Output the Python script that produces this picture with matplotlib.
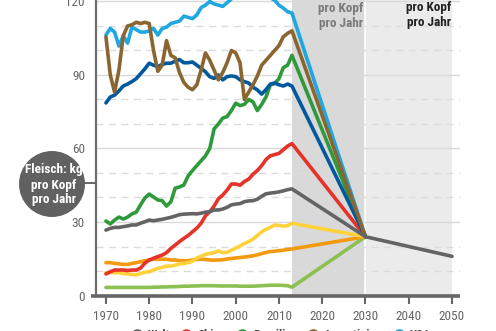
import numpy as np
import matplotlib
matplotlib.use("Agg")
import matplotlib.pyplot as plt
from matplotlib.lines import Line2D
from matplotlib.patches import Circle

plt.rcParams['font.family'] = ['Roboto Condensed', 'Roboto', 'DejaVu Sans']

# historic values 1970-2013, kg meat per head and year
years = list(range(1970, 2014))
welt = [26.7, 27.4, 27.8, 27.8, 28.1, 28.4, 28.8, 28.8, 29.5, 30.1,
        30.8, 30.5, 30.8, 31.1, 31.5, 31.9, 32.4, 33.0, 33.2, 33.3,
        33.4, 33.3, 33.6, 34.0, 34.2, 34.9, 34.9, 35.3, 36.0, 37.0,
        37.3, 37.5, 38.3, 38.6, 38.7, 39.3, 40.5, 41.5, 41.8, 42.0,
        42.3, 42.7, 43.2, 43.5]
china = [8.8, 9.7, 10.4, 10.4, 10.4, 10.2, 10.4, 10.4, 11.2, 13.2,
         14.5, 15.2, 15.9, 16.5, 17.5, 19.2, 20.6, 22.0, 23.3, 24.5,
         26.0, 27.5, 29.5, 32.5, 34.2, 36.5, 39.5, 41.0, 43.0, 45.5,
         45.5, 45.0, 46.5, 47.5, 49.5, 51.0, 53.0, 55.5, 57.0, 57.5,
         58.0, 59.5, 61.0, 62.0]
brasilien = [30.4, 29.2, 30.8, 32.0, 31.2, 32.0, 33.3, 34.0, 37.0, 39.8,
             41.4, 40.2, 39.0, 38.7, 36.5, 38.2, 43.8, 44.3, 45.1, 48.8,
             51.0, 53.0, 55.0, 57.0, 60.0, 68.0, 70.0, 72.4, 73.0, 75.5,
             78.5, 77.5, 78.0, 80.0, 79.0, 75.5, 78.0, 81.0, 86.0, 86.5,
             88.5, 93.0, 94.0, 98.0]
argentinien = [105.5, 90.0, 83.0, 92.0, 106.0, 110.0, 110.5, 111.5, 111.0, 111.5,
               111.0, 100.0, 91.5, 94.0, 104.0, 98.0, 97.0, 91.0, 87.0, 85.0,
               84.0, 86.0, 92.0, 99.0, 96.0, 92.0, 88.0, 91.0, 95.0, 100.0,
               99.0, 95.0, 80.0, 83.0, 86.0, 89.6, 94.0, 96.0, 98.0, 100.0,
               102.0, 105.6, 107.0, 108.0]
usa = [106.3, 109.0, 107.5, 101.8, 106.0, 103.0, 109.5, 108.5, 107.5, 107.5,
       108.0, 109.0, 106.3, 109.0, 109.5, 111.0, 111.5, 112.0, 114.0, 113.5,
       113.0, 114.5, 117.5, 118.5, 120.0, 119.0, 118.5, 118.0, 119.5, 121.0,
       122.0, 121.5, 122.5, 123.0, 123.0, 122.5, 122.0, 122.0, 121.5, 120.5,
       118.5, 117.3, 115.8, 115.3]
dark_blue = [78.6, 81.0, 81.8, 83.5, 85.5, 86.3, 87.3, 88.5, 90.5, 92.5,
             94.8, 94.0, 93.4, 94.3, 94.8, 94.8, 95.6, 96.3, 95.0, 95.0,
             95.3, 94.0, 92.7, 91.3, 89.3, 88.6, 90.0, 88.0, 89.3, 89.6,
             89.3, 88.0, 87.3, 86.7, 85.0, 83.9, 82.2, 84.0, 86.3, 86.7,
             86.0, 85.5, 86.3, 85.5]
yellow = [9.3, 9.3, 9.3, 9.3, 9.0, 8.8, 8.6, 8.4, 9.0, 9.5,
          9.7, 10.4, 11.1, 11.5, 12.0, 12.0, 12.4, 12.9, 13.1, 13.4,
          14.0, 15.3, 16.0, 16.8, 17.2, 17.5, 18.2, 17.5, 17.6, 18.5,
          19.3, 20.2, 21.2, 22.0, 23.0, 24.5, 26.0, 27.0, 27.8, 28.8,
          28.6, 28.3, 28.5, 29.5]
orange = [13.4, 13.4, 13.1, 12.9, 12.7, 12.7, 13.1, 13.4, 13.8, 14.2,
          14.5, 14.8, 14.8, 14.8, 14.8, 14.5, 14.5, 14.2, 14.2, 14.2,
          14.5, 14.7, 14.8, 14.7, 14.5, 14.4, 14.5, 14.6, 14.9, 15.1,
          15.3, 15.5, 15.7, 15.9, 16.2, 16.6, 17.1, 17.6, 17.9, 18.1,
          18.3, 18.5, 18.8, 19.0]
light_green = [3.3, 3.3, 3.3, 3.3, 3.3, 3.3, 3.3, 3.3, 3.3, 3.3,
               3.3, 3.4, 3.4, 3.5, 3.5, 3.6, 3.6, 3.7, 3.8, 3.8,
               3.9, 3.9, 4.0, 4.0, 4.0, 4.0, 3.9, 3.9, 3.9, 3.9,
               3.9, 3.8, 3.8, 3.8, 3.8, 3.9, 4.0, 4.1, 4.2, 4.2,
               4.2, 4.1, 4.0, 3.4]

# target path
ziel_jahr = 2030
ziel_wert = 24.0
welt_2050 = 16.0

xticks = list(range(1970, 2051, 10))
yticks = [0, 30, 60, 90, 120]
legend_names = ['Welt', 'China', 'Brasilien', 'Argentinien', 'USA']

GRAY = '#646464'
series = [
    (light_green, '#8cc152'),
    (orange, '#f49a10'),
    (yellow, '#ffd23c'),
    (china, '#e5332a'),
    (brasilien, '#2e9a3b'),
    (dark_blue, '#00599d'),
    (usa, '#1ea7e1'),
    (argentinien, '#8b6530'),
]

fig = plt.figure(figsize=(4.96, 3.31), dpi=100)
ax = fig.add_axes([96/496, 35/331, 364/496, 296/331])
ax.set_xlim(1967.7, 2051.85)
ax.set_ylim(-0.2, 120.6)

# shaded periods
ax.axvspan(2013, 2030, color='#d9d9d9', lw=0, zorder=0)
ax.axvspan(2030, 2050, color='#ebebeb', lw=0, zorder=0)
ax.axvline(2030, color='white', lw=1.2, zorder=0.5)

# grid
for v in range(10, 121, 10):
    if v % 30 == 0:
        ax.axhline(v, color='#d9d9d9', lw=1.0, zorder=1)
    else:
        ax.axhline(v, color='#dcdcdc', lw=1.0, ls=(0, (5, 4)), zorder=1)

for vals, col in series:
    ax.plot(years + [ziel_jahr], vals + [ziel_wert], color=col, lw=2.6,
            solid_joinstyle='round', solid_capstyle='round', zorder=3)
ax.plot(years + [ziel_jahr, 2050], welt + [ziel_wert, welt_2050], color=GRAY,
        lw=2.6, solid_joinstyle='round', solid_capstyle='round', zorder=4)

# axes
for s in ['top', 'right', 'bottom']:
    ax.spines[s].set_visible(False)
ax.spines['left'].set_color('#6e6e6e')
ax.spines['left'].set_linewidth(1.6)
ax.plot([1966.5, 2051.85], [-0.2, -0.2], color='#666666', lw=2.6,
        clip_on=False, zorder=5, solid_capstyle='butt')

ax.set_xticks(xticks)
ax.set_yticks(yticks)
ax.tick_params(axis='x', length=6, width=1.5, color='#666666', pad=4,
               labelsize=9.5, labelcolor='#666666')
ax.tick_params(axis='y', length=0, pad=8, labelsize=9.5, labelcolor='#666666')

# circle label (pixel-true circle via inch transform)
fig.patches.append(Circle((0.52, (331 - 184) / 100), 0.33,
                          transform=fig.dpi_scale_trans,
                          facecolor='#616161', edgecolor='none'))
fig.add_artist(Line2D([85/496, 96/496], [1 - 183/331, 1 - 183/331], color='#666666', lw=1.4))
fig.text(54/496, 1 - 185/331, 'Fleisch: kg\npro Kopf\npro Jahr', color='white',
         fontsize=9.5, fontweight='bold', ha='center', va='center', linespacing=1.2)

# top annotations
ax.text(2029.4, 114.2, 'pro Kopf\npro Jahr', color='#7a7a7a', fontsize=9.5,
        fontweight='bold', ha='right', va='center', linespacing=1.2)
ax.text(2049.9, 114.6, 'pro Kopf\npro Jahr', color='#222222', fontsize=9.5,
        fontweight='bold', ha='right', va='center', linespacing=1.2)

handles = [Line2D([], [], ls='none', marker='o', markersize=8, color=c)
           for c in [GRAY, '#e5332a', '#2e9a3b', '#8b6530', '#1ea7e1']]
fig.legend(handles, legend_names, ncol=5, loc='upper left',
           bbox_to_anchor=(131/496, 2/331), frameon=False,
           borderpad=0, borderaxespad=0, handlelength=0.9,
           handletextpad=0.45, columnspacing=0.8, labelcolor='#444444',
           prop={'weight': 'bold', 'size': 9})

fig.savefig('out.png', dpi=100)
